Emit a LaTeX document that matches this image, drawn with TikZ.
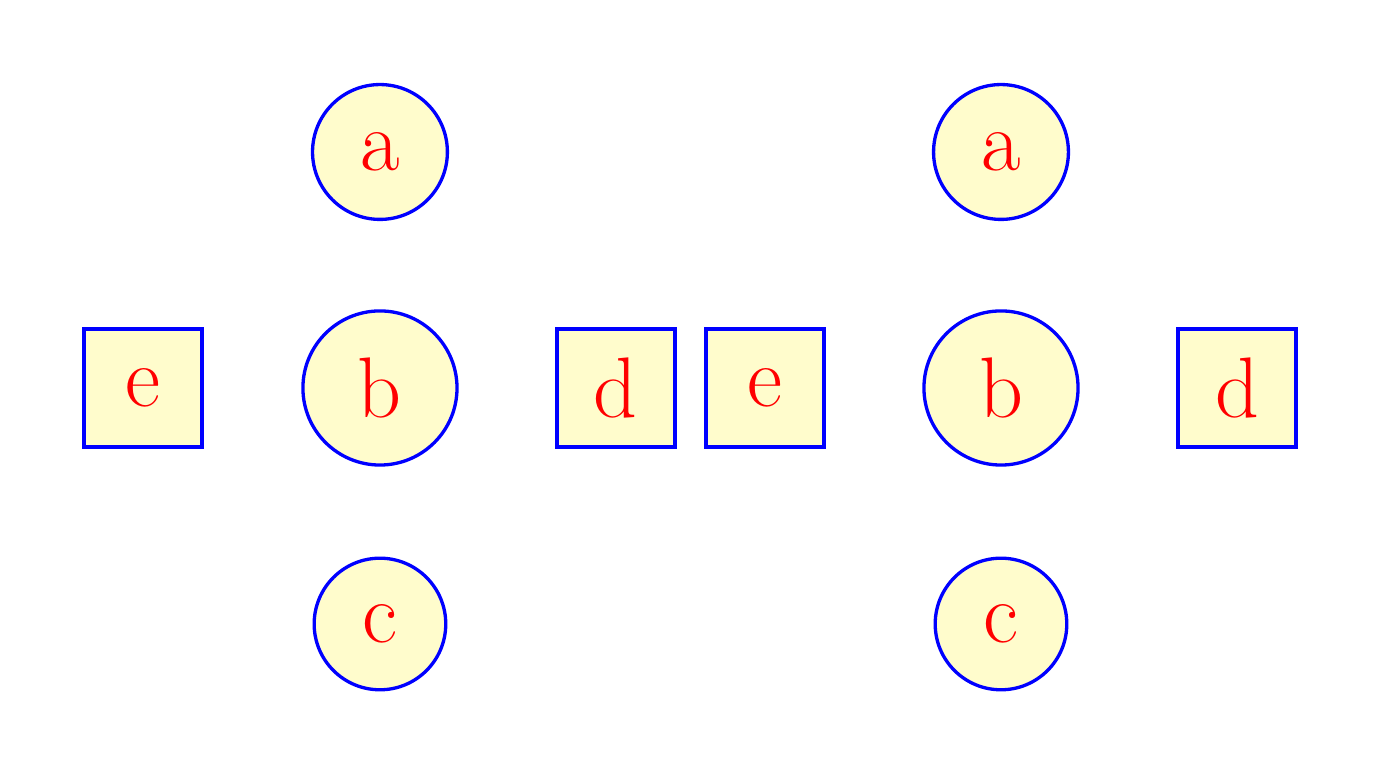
\documentclass[tikz,border=0pt]{standalone}
\begin{document}
\begin{tikzpicture}[x=1cm,y=1cm,
  base/.style={draw=blue,fill=yellow!20,text=red,thick,font=\huge},
  circ/.style={base,circle,inner sep=6.8pt},
  sq/.style={base,rectangle,minimum size=1cm,inner sep=0pt}]
\useasboundingbox (0,0) rectangle (11.712,6.568);
\node[sq]   (e1) at (1.212,3.280) {e};
\node[circ] (a1) at (3.220,5.280) {a};
\node[circ] (b1) at (3.220,3.280) {b};
\node[circ] (c1) at (3.220,1.280) {c};
\node[sq]   (d1) at (5.220,3.280) {d};
\node[sq]   (e2) at (6.483,3.280) {e};
\node[circ] (a2) at (8.483,5.280) {a};
\node[circ] (b2) at (8.483,3.280) {b};
\node[circ] (c2) at (8.483,1.280) {c};
\node[sq]   (d2) at (10.483,3.280) {d};
\end{tikzpicture}
\end{document}
